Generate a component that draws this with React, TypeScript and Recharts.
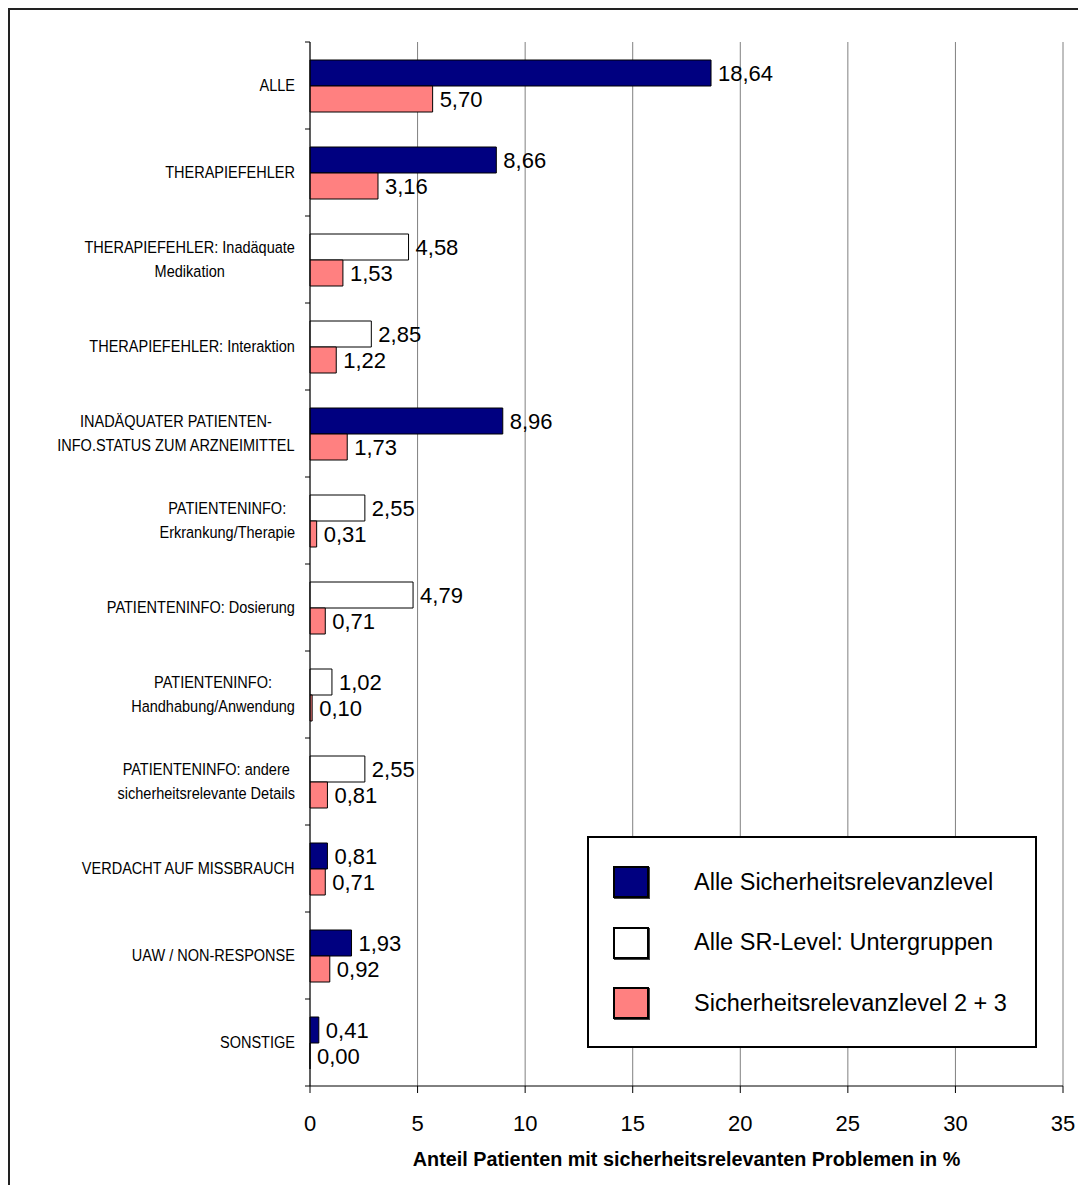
import { BarChart, Bar, XAxis, YAxis, CartesianGrid, LabelList, Cell, Legend, Label } from 'recharts';

const categories = [
  'ALLE',
  'THERAPIEFEHLER',
  'THERAPIEFEHLER: Inadäquate\nMedikation',
  'THERAPIEFEHLER: Interaktion',
  'INADÄQUATER PATIENTEN-\nINFO.STATUS ZUM ARZNEIMITTEL',
  'PATIENTENINFO:\nErkrankung/Therapie',
  'PATIENTENINFO: Dosierung',
  'PATIENTENINFO:\nHandhabung/Anwendung',
  'PATIENTENINFO: andere\nsicherheitsrelevante Details',
  'VERDACHT AUF MISSBRAUCH',
  'UAW / NON-RESPONSE',
  'SONSTIGE',
];

// first bar per category: main groups (navy) or subgroups (white)
const allLevels = [18.64, 8.66, 4.58, 2.85, 8.96, 2.55, 4.79, 1.02, 2.55, 0.81, 1.93, 0.41];
const isSubgroup = [false, false, true, true, false, true, true, true, true, false, false, false];
const level23 = [5.7, 3.16, 1.53, 1.22, 1.73, 0.31, 0.71, 0.1, 0.81, 0.71, 0.92, 0.0];

const xTicks = [0, 5, 10, 15, 20, 25, 30, 35];
const legendLabels = ['Alle Sicherheitsrelevanzlevel', 'Alle SR-Level: Untergruppen', 'Sicherheitsrelevanzlevel 2 + 3'];

const NAVY = '#000080';
const SALMON = '#FF8080';
const FONT = '"Liberation Sans", Arial, sans-serif';
const CAT_SIZE = 16.5;
const CAT_SQUEEZE = 0.88; // category labels are set in a condensed face

const legendColors = [NAVY, '#FFFFFF', SALMON];

const rows = categories.map((name, i) => ({ name, all: allLevels[i], sr23: level23[i] }));

const fmt = (v: any) => Number(v).toFixed(2).replace('.', ',');

let measureCtx: CanvasRenderingContext2D | null = null;
function textWidth(s: string) {
  if (!measureCtx) measureCtx = document.createElement('canvas').getContext('2d');
  if (!measureCtx) return s.length * 8;
  measureCtx.font = `${CAT_SIZE}px ${FONT}`;
  return measureCtx.measureText(s).width * CAT_SQUEEZE;
}

function CategoryTick(props: any) {
  const { x, y, payload, index, visibleTicksCount } = props;
  const lines = String(payload.value).split('\n');
  const maxW = Math.max(...lines.map(textWidth));
  const cx = x - maxW / 2;
  const axisX = x + 15;
  const half = payload.offset || 0;
  const lineH = 24;
  const y0 = y - ((lines.length - 1) * lineH) / 2;
  return (
    <g>
      <line x1={axisX - 5} x2={axisX} y1={y - half} y2={y - half} stroke="#000" />
      {index === visibleTicksCount - 1 && (
        <line x1={axisX - 5} x2={axisX} y1={y + half} y2={y + half} stroke="#000" />
      )}
      <text
        transform={`translate(${cx} 0) scale(${CAT_SQUEEZE} 1)`}
        textAnchor="middle"
        fontFamily={FONT}
        fontSize={CAT_SIZE}
        fill="#000"
      >
        {lines.map((l, i) => (
          <tspan key={i} x={0} y={y0 + i * lineH} dy="0.35em">
            {l}
          </tspan>
        ))}
      </text>
    </g>
  );
}

function ValueLabel(props: any) {
  const { x, y, width, height, value } = props;
  return (
    <text
      x={Number(x) + Number(width || 0) + 7}
      y={Number(y) + Number(height) / 2}
      dy="0.38em"
      fill="#000"
      fontSize={22}
      fontFamily={FONT}
    >
      {fmt(value)}
    </text>
  );
}

function LegendBox() {
  return (
    <div
      style={{
        boxSizing: 'border-box',
        width: 450,
        height: 212,
        border: '2px solid #000',
        background: '#fff',
        padding: '28px 0 0 24px',
        fontFamily: FONT,
        fontSize: 23.5,
      }}
    >
      {legendLabels.map((label, i) => (
        <div key={label} style={{ display: 'flex', alignItems: 'center', height: 32, marginBottom: 28.5 }}>
          <div
            style={{
              boxSizing: 'border-box',
              width: 36,
              height: 32,
              background: legendColors[i],
              border: '2px solid #000',
              boxShadow: '1px 1px 0 #444',
            }}
          />
          <span style={{ marginLeft: 45, color: '#000', whiteSpace: 'nowrap' }}>{label}</span>
        </div>
      ))}
    </div>
  );
}

export default function App() {
  return (
    <div style={{ position: 'relative', width: 1078, height: 1177, overflow: 'hidden' }}>
      <div
        style={{
          position: 'absolute',
          left: 0,
          top: 0,
          width: 1200,
          height: 1300,
          borderLeft: '2px solid #222',
          borderTop: '2px solid #222',
        }}
      />
      <div style={{ position: 'absolute', left: 0, top: 0 }}>
        <BarChart
          layout="vertical"
          width={1078}
          height={1177}
          data={rows}
          margin={{ top: 34, right: 23, bottom: 19, left: 12 }}
          barCategoryGap={18}
          barGap={0}
        >
          <CartesianGrid xAxisId="main" horizontal={false} stroke="#808080" />
          <XAxis
            xAxisId="main"
            type="number"
            domain={[0, 35]}
            ticks={xTicks}
            interval={0}
            height={80}
            axisLine={{ stroke: '#000' }}
            tickLine={{ stroke: '#000' }}
            tickSize={7}
            tickMargin={22}
            tick={{ fill: '#000', fontSize: 22, fontFamily: FONT }}
          >
            <Label
              value="Anteil Patienten mit sicherheitsrelevanten Problemen in %"
              position="insideBottom"
              offset={0}
              fill="#000"
              fontSize={19.8}
              fontWeight="bold"
              fontFamily={FONT}
            />
          </XAxis>
          <XAxis
            xAxisId="top"
            orientation="top"
            type="number"
            domain={[0, 35]}
            height={0}
            tick={false}
            tickLine={false}
            axisLine={{ stroke: '#808080' }}
          />
          <YAxis
            type="category"
            dataKey="name"
            width={290}
            interval={0}
            axisLine={{ stroke: '#000' }}
            tickLine={false}
            tickSize={5}
            tickMargin={10}
            tick={<CategoryTick />}
          />
          <Bar xAxisId="main" dataKey="all" stroke="#000" strokeWidth={1} isAnimationActive={false}>
            {rows.map((r, i) => (
              <Cell key={r.name} fill={isSubgroup[i] ? '#FFFFFF' : NAVY} />
            ))}
            <LabelList dataKey="all" content={<ValueLabel />} />
          </Bar>
          <Bar
            xAxisId="main"
            dataKey="sr23"
            fill={SALMON}
            stroke="#000"
            strokeWidth={1}
            minPointSize={0.01}
            isAnimationActive={false}
          >
            <LabelList dataKey="sr23" content={<ValueLabel />} />
          </Bar>
          <Legend
            layout="vertical"
            align="center"
            verticalAlign="middle"
            content={() => <LegendBox />}
            wrapperStyle={{ left: 579, top: 828, width: 450, height: 212 }}
          />
        </BarChart>
      </div>
    </div>
  );
}
